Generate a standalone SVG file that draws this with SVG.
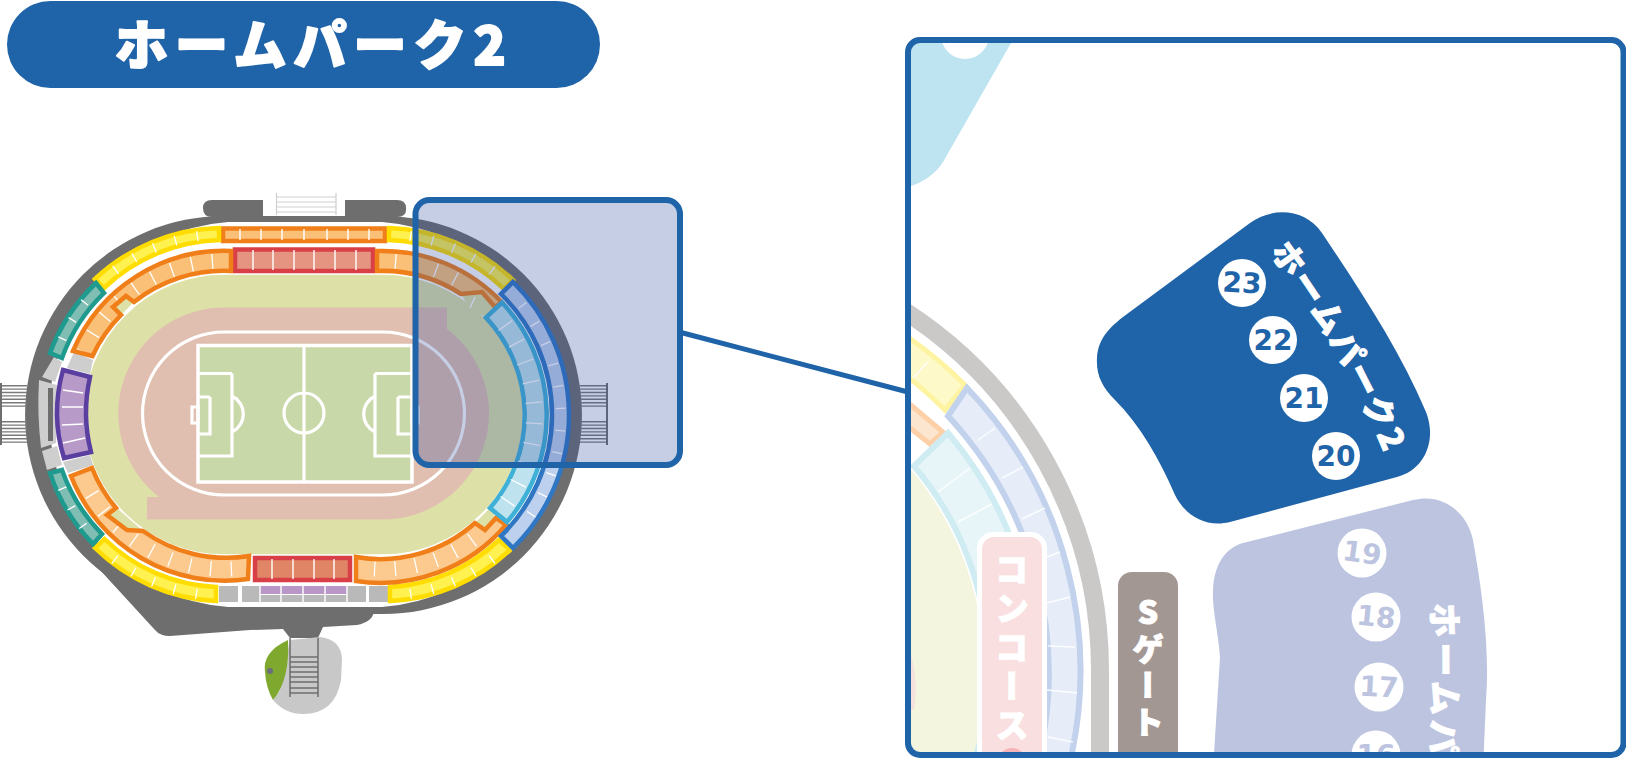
<svg xmlns="http://www.w3.org/2000/svg" width="1626" height="759" viewBox="0 0 1626 759">
<style>
text{font-family:"Noto Sans CJK JP","Noto Sans",sans-serif;font-weight:900;stroke-linejoin:round}
.num{font-family:"DejaVu Sans",sans-serif;font-weight:700;font-size:28px;text-anchor:middle;dominant-baseline:central}
.vert{writing-mode:vertical-rl;text-orientation:upright;fill:#fff;stroke:#fff;stroke-width:1}
.lab{fill:#fff;stroke:#fff;stroke-width:.9}
.sec{stroke-width:4.5;stroke-linejoin:miter}
.y{fill:#fff14f;stroke:#ffdd00}
.o{fill:#fbc078;stroke:#f07f1a}
.c{fill:#bfe3ee;stroke:#3fb1d6}
.b{fill:#bdd0ee;stroke:#2f76c3}
.t{fill:#80bdb3;stroke:#1f9a8e}
.d{fill:none;stroke:#fff;stroke-width:1.4}
.dy{fill:none;stroke:#fff;stroke-width:10;stroke-dasharray:1.3 21}
.do{fill:none;stroke:#fff;stroke-width:15;stroke-dasharray:1.3 19.4}
.dt{fill:none;stroke:#fff;stroke-width:9;stroke-dasharray:1.3 20}
.g{fill:#cecece}
.gb{fill:#b9b9b9}
.inf{fill:#dde1a7}
.line{fill:none;stroke:#fff;stroke-width:3.2}
.stair{fill:none;stroke:#7a7a7a;stroke-dasharray:1.4 2}
.w1{stroke:#fff;stroke-width:1.5;stroke-opacity:.85;fill:none}
</style>
<defs>
<clipPath id="panelClip"><rect x="910" y="42" width="711" height="711" rx="10"/></clipPath>
<path id="arc1" d="M1269 252Q1340 345 1385 455"/>
<path id="arc2" d="M1431 604Q1436 684 1427 795"/>
</defs>

<g id="title">
<rect x="7" y="1" width="593" height="87" rx="43.5" fill="#1f63a8"/>
<text x="115" y="65" font-size="53" letter-spacing="7" fill="#fff" stroke="#fff" stroke-width="2">ホームパーク2</text>
</g>

<g id="stadium">
<path fill="#6e6e6e" d="M224 216L383 216A199 199 0 0 1 383 614L224 614A199 199 0 0 1 224 216Z"/>
<path fill="#6e6e6e" d="M88 552L100 570L155 630Q160 636 170 636L250 630L283 629L290 638L318 638L323 627L357 625Q372 622 374 612L300 600L100 540Z"/>
<path fill="#6e6e6e" d="M212 200H263V217H212Q203 217 203 208Q203 200 212 200ZM345 200H397Q406 200 406 208Q407 217 397 217H345Z"/>
<path fill="#fff" d="M228 222L382 222A193 193 0 0 1 382 607L228 607A193 193 0 0 1 228 222Z"/>
<path fill="#c8c8c8" d="M290 640L320 637Q342 640 342 660L341 680Q335 714 303 714Q285 714 273 700L280 690Z"/>
<path fill="#7fa92e" d="M288 640Q262 652 265 672Q266 688 273 700Q290 680 288 640Z"/>
<circle cx="270" cy="671" r="3" fill="#6d6d80"/>
<path fill="none" stroke="#6d6d6d" stroke-width="1.5" d="M290 638V697M318 638V697M290 657H318M290 662H318M290 667H318M290 672H318M290 677H318M290 682H318M290 688H318M290 693H318"/>
<path class="stair" stroke-width="27" d="M13.5 385V407M13.5 421V443M593.5 385V407M593.5 421V443"/>
<path fill="none" stroke="#6e6e6e" stroke-width="2" d="M1 383V445M607 383V445"/>
<path fill="none" stroke="#cfcfcf" stroke-width="1.2" d="M276.500 193V215M336 193V215M276 197H336M276 202H336M276 207H336M276 212H336"/>
<path class="inf" stroke="#fff" stroke-width="1.5" d="M224 274L383 274A140 140 0 0 1 383 555L224 555A140 140 0 0 1 224 274Z"/>
<path fill="#e0bfb0" d="M224 307.500L447 307.500V329A106 106 0 0 1 383 519.500L147 519.500V497H159A106 106 0 0 1 224 307.500Z"/>
<path class="line" d="M224 332H383A81.500 81.500 0 0 1 383 495H224A81.500 81.500 0 0 1 224 332Z"/>
<rect x="198" y="345.500" width="214" height="136.500" fill="#c9d8a8" stroke="#fff" stroke-width="3.500"/>
<path class="line" d="M304 345V482M232 373.500V456H198M198 373.500H232M210 397V434H198M198 397H210M192 407H198V423H192ZM412 407H418V423H412ZM375 373.500V456H412M412 373.500H375M398 397V434H412M412 397H398M232 396A20 20 0 0 1 232 432M375 396A20 20 0 0 0 375 432"/>
<circle class="line" cx="304" cy="413" r="20"/>
</g>

<g id="sections">
<path class="g" d="M54 357L62 362L55 382L42 377ZM39 380L57 385L56 443L41 448Q37 414 39 380ZM42 451L57 446L62 465L47 470ZM74 352L93 360L90 374L67 368ZM63 462L90 455L93 465L68 473Z"/>
<rect x="48" y="388" width="5" height="53" fill="#6e6e6e"/>
<path class="sec o" d="M223 228.500H385V241H223Z"/>
<path class="d" d="M240 229V240M261 229V240M282 229V240M304 229V240M327 229V240M348 229V240M369 229V240"/>
<path class="sec" fill="#e49481" stroke="#d93f46" d="M235 249.500H373V271H235Z"/>
<path class="d" d="M253 250V270M273 250V270M294 250V270M314 250V270M335 250V270M356 250V270"/>
<path class="sec" fill="#e08565" stroke="#d93f46" d="M255 558H350V580H255Z"/>
<path class="d" d="M272 559V579M293 559V579M314 559V579M334 559V579"/>
<path class="gb" d="M219 586H238V602H219ZM242 586H260V602H242ZM347 586H366V602H347ZM369 586H388V602H369ZM260 595H347V602H260Z"/>
<rect x="260" y="586" width="87" height="8" fill="#b996c8"/>
<path class="d" d="M260 586V602M281 586V602M303 586V602M325 586V602M347 586V602"/>

<path class="sec y" d="M219 228A187 187 0 0 0 95 279L104 288A175 175 0 0 1 219 240Z"/>
<path class="dy" d="M198 236A181 181 0 0 0 101 282"/>
<path class="sec y" d="M389 228A187 187 0 0 1 513 280L504 289A175 175 0 0 0 389 240Z"/>
<path class="dy" d="M410 236A181 181 0 0 1 509 285"/>
<path class="sec y" d="M216 601A186 186 0 0 1 95 548L104.500 539A172 172 0 0 0 216 587Z"/>
<path class="dy" d="M197 594A181 181 0 0 1 103 550"/>
<path class="sec y" d="M390 601A186 186 0 0 0 510 550L499 540A171 171 0 0 1 390 587Z"/>
<path class="dy" d="M410 594A181 181 0 0 0 511 543"/>

<path fill="#fbc078" d="M231 251A164 164 0 0 0 73 351L92.500 356A144 144 0 0 1 121 315L113 307L126 296L134 302A144 144 0 0 1 231 271Z"/>
<path class="do" d="M213 261.400A154 154 0 0 0 83 352"/>
<path class="inf" d="M113 307L126 296L134 302L121 315Z"/>
<path class="sec" fill="none" stroke="#f07f1a" d="M231 251A164 164 0 0 0 73 351L92.500 356A144 144 0 0 1 121 315L113 307L126 296L134 302A144 144 0 0 1 231 271Z"/>

<path class="inf" d="M461 294L482 292L495 307L488 318L470 310Z"/>
<path class="d" d="M475 297L470 308"/>
<path fill="#fbc078" d="M377 251A164 164 0 0 1 502 302.500L495 307L482 292L461 294A144 144 0 0 0 377 271Z"/>
<path class="do" d="M395 261.500A154 154 0 0 1 465 285"/>
<path class="sec" fill="none" stroke="#f07f1a" d="M377 251A164 164 0 0 1 502 302.500L495 307L482 292L461 294A144 144 0 0 0 377 271Z"/>

<path class="inf" d="M117 508L107 515L127 530L143 531Z"/>
<path fill="#fcc98e" d="M71 476L92 468A142 142 0 0 0 116 508L107 515L127 530L143 531A143 143 0 0 0 249 556L248 579A165 165 0 0 1 71 476Z"/>
<path class="do" d="M232 569A154 154 0 0 1 84 479"/>
<path class="inf" d="M116 508L107 515L127 530L143 531Z"/>
<path class="sec" fill="none" stroke="#f07f1a" d="M71 476L92 468A142 142 0 0 0 116 508L107 515L127 530L143 531A143 143 0 0 0 249 556L248 579A165 165 0 0 1 71 476Z"/>

<path class="inf" d="M496 518L485 530L475 523L490 508Z"/>
<path fill="#fcc98e" d="M356 557V581A165 165 0 0 0 506 525L496 518L485 530L475 523A142 142 0 0 1 356 557Z"/>
<path class="do" d="M374 569A154 154 0 0 0 486 529"/>
<path class="sec" fill="none" stroke="#f07f1a" d="M356 557V581A165 165 0 0 0 506 525L496 518L485 530L475 523A142 142 0 0 1 356 557Z"/>

<path class="sec c" d="M502 302.500A164 164 0 0 1 507 522L490 508A142 142 0 0 0 486 317.600Z"/>
<path class="d" style="stroke-width:17;stroke-dasharray:1.3 19.500" d="M505 325A152 152 0 0 1 505 505"/>
<path class="sec b" d="M513 282A186 186 0 0 1 513 548L501 536A169 169 0 0 0 501 294Z"/>
<path class="d" style="stroke-width:10;stroke-dasharray:1.3 21" d="M522 305A178 178 0 0 1 522 527"/>
<path class="sec t" d="M96 283A185 185 0 0 0 50 353L62 358A171 171 0 0 1 104 293Z"/>
<path class="dt" d="M85 302A179 179 0 0 0 57 352"/>
<path class="sec t" d="M50 473A186 186 0 0 0 93 544L102 534A171 171 0 0 1 62 470Z"/>
<path class="dt" d="M62 488A178 178 0 0 0 90 535"/>
<path class="sec" fill="#b79ac8" stroke="#5a3fa0" d="M63 370L90 377Q81.500 415 91 452L64 458Q50.500 415 63 370Z"/>
<path class="d" d="M63 390L83 393M62 407H83M62 425L83 424M63 443L85 438"/>
</g>

<g id="highlight">
<rect x="415.500" y="200" width="264.500" height="265" rx="14" fill="#2a4a9e" fill-opacity=".27" stroke="#1f63a8" stroke-width="6"/>
</g>

<g id="connectors">
<line x1="681" y1="332.500" x2="906" y2="391.500" stroke="#1f63a8" stroke-width="5"/>
</g>

<g id="panel">
<rect x="908" y="40" width="715.500" height="715" rx="12" fill="#fff"/>
<g clip-path="url(#panelClip)">
<path fill="#bde4f0" d="M905 43H1011L947 155Q935 180 905 188Z"/>
<circle cx="965" cy="35" r="24" fill="#fff"/>
<path fill="none" stroke="#cbc8c8" stroke-width="18" d="M900 308A428 428 0 0 1 1100 670V780"/>
<path fill="#f3f5de" d="M900 457A312 312 0 0 1 984 670V770H900Z"/>
<path fill="#f5e2de" d="M905 640Q920 670 914 710H905Z"/>
<path fill="#fef9c8" stroke="#fdf3a0" stroke-width="5" d="M900 332A408 408 0 0 1 965 385L945 410A376 376 0 0 0 900 371Z"/>
<path class="w1" d="M928 362L913 378"/>
<path fill="#fde6cf" stroke="#fdd0a8" stroke-width="5" d="M900 396L943 432L930 444L900 420Z"/>
<path fill="#e8f5f8" stroke="#cfecf3" stroke-width="6" d="M948 433A362 362 0 0 1 1020 770L972 770A316 316 0 0 0 914 466Z"/>
<path class="w1" d="M970 468L938 492M992 504L958 522"/>
<path fill="#e6edf9" stroke="#c2d1ec" stroke-width="6" d="M967 388A408 408 0 0 1 1068 770L1036 770A378 378 0 0 0 948 416Z"/>
<path class="w1" d="M995 428L978 440M1023 467L1002 478M1045 508L1022 519M1060 552L1047 557M1070 597L1047 603M1075 647L1048 646M1077 693L1047 690M1073 742L1048 737"/>
</g>
</g>

<g id="concourse" clip-path="url(#panelClip)">
<rect x="977" y="532" width="70" height="240" rx="16" fill="#fff"/>
<rect x="982" y="537" width="60" height="235" rx="12" fill="#f9dfe0"/>
<circle cx="1012" cy="762" r="14" fill="#f5b5b8"/>
<text x="1012" y="552" class="vert" font-size="34" letter-spacing="5">コンコース</text>
</g>

<g id="s-gate" clip-path="url(#panelClip)">
<rect x="1118" y="572" width="60" height="200" rx="14" fill="#a39793"/>
<text x="1148" y="596" class="vert" font-size="32" letter-spacing="4.500">Sゲート</text>
</g>

<g id="area-2">
<path fill="#1f63a8" d="M1250 223C1272 207 1305 208 1322 233C1360 290 1400 350 1426 412C1437 440 1425 470 1397 477L1230 522C1205 528 1185 515 1175 495C1160 460 1140 425 1115 400C1102 387 1096 375 1097 358C1098 342 1105 331 1123 317Z"/>
<text font-size="33" letter-spacing="2.500" class="lab"><textPath href="#arc1">ホームパーク2</textPath></text>
<g fill="#fff">
<circle cx="1242" cy="283" r="24"/><circle cx="1273" cy="340" r="24"/><circle cx="1304" cy="398" r="24"/><circle cx="1336" cy="456" r="24"/>
</g>
<g fill="#1f63a8">
<text x="1242" y="283" class="num" transform="rotate(3 1242 283)">23</text>
<text x="1273" y="340" class="num">22</text>
<text x="1304" y="398" class="num">21</text>
<text x="1336" y="456" class="num">20</text>
</g>
</g>

<g id="area-1" clip-path="url(#panelClip)">
<path fill="#bcc4e0" d="M1243 543L1413 500C1445 492 1468 515 1473 540C1482 590 1490 650 1486 700L1483 770H1213L1220 657C1218 630 1212 610 1213 590C1214 565 1225 548 1243 543Z"/>
<g fill="#fff">
<circle cx="1362" cy="553" r="24.500"/><circle cx="1376" cy="617" r="24.500"/><circle cx="1379" cy="687" r="24.500"/><circle cx="1376" cy="755" r="24.500"/>
</g>
<g fill="#bcc4e0">
<text x="1362" y="553" class="num" transform="rotate(8 1362 553)">19</text>
<text x="1376" y="617" class="num" transform="rotate(6 1376 617)">18</text>
<text x="1379" y="687" class="num" transform="rotate(3 1379 687)">17</text>
<text x="1376" y="755" class="num">16</text>
</g>
<text font-size="34" letter-spacing="5" class="lab"><textPath href="#arc2">ホームパ</textPath></text>
</g>

<g id="panel-frame">
<rect x="908" y="40" width="715.500" height="715" rx="12" fill="none" stroke="#1f63a8" stroke-width="6"/>
</g>
</svg>
